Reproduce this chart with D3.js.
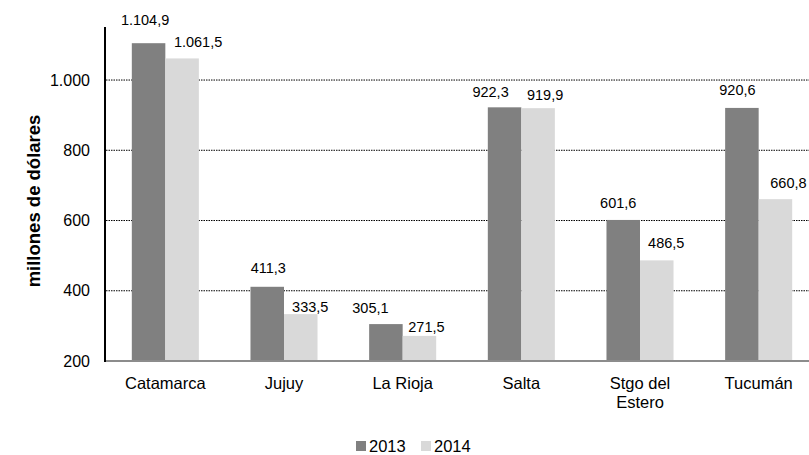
<!DOCTYPE html>
<html>
<head>
<meta charset="utf-8">
<script src="https://cdn.jsdelivr.net/npm/d3@7"></script>
<style>
  body { margin: 0; background: #fff; }
  svg { display: block; font-family: "Liberation Sans", Arial, sans-serif; }
</style>
</head>
<body>
<svg id="chart"></svg>
<script>
var provinces = ["Catamarca", "Jujuy", "La Rioja", "Salta", "Stgo del|Estero", "Tucumán"]
var years = ["2013", "2014"]
var values2013 = [1104.9, 411.3, 305.1, 922.3, 601.6, 920.6]
var values2014 = [1061.5, 333.5, 271.5, 919.9, 486.5, 660.8]
var labels2013 = ["1.104,9", "411,3", "305,1", "922,3", "601,6", "920,6"]
var labels2014 = ["1.061,5", "333,5", "271,5", "919,9", "486,5", "660,8"]
var yTicks = [200, 400, 600, 800, 1000]

// labels were hand placed in the original, so nudge them a bit
var nudge2013 = [[-3.5, -23], [1, -19], [-15.5, -16], [-14, -15], [-5, -17], [-4.5, -18]]
var nudge2014 = [[16, -16.5], [9.5, -7], [7, -9], [7, -13], [9.5, -17.5], [13, -16]]

var dims = {
    width: 809,
    height: 455,
    margin: { top: 27, bottom: 94, left: 106, right: -9 }
}

var svg = d3.select("#chart")
            .attr("width", dims.width)
            .attr("height", dims.height)

var xScale = d3.scaleBand()
               .domain(provinces)
               .range([dims.margin.left, dims.width - dims.margin.right])

var bandW = xScale.bandwidth()
var subScale = d3.scaleBand()
                 .domain(years)
                 .range([bandW * 0.2175, bandW * 0.7825])

var yScale = d3.scaleLinear()
               .domain([200, 1151])
               .range([dims.height - dims.margin.bottom, dims.margin.top])

var colors = { "2013": "#808080", "2014": "#d9d9d9" }

// dotted gridlines
svg.append("g")
   .selectAll("line")
   .data(yTicks.filter(d => d > 200))
   .enter()
   .append("line")
   .attr("x1", dims.margin.left)
   .attr("x2", dims.width)
   .attr("y1", d => yScale(d))
   .attr("y2", d => yScale(d))
   .attr("stroke", "#000")
   .attr("stroke-width", 1)
   .attr("stroke-dasharray", "1.5,1")

var series = [
    { year: "2013", values: values2013, labels: labels2013, nudge: nudge2013 },
    { year: "2014", values: values2014, labels: labels2014, nudge: nudge2014 }
]

series.forEach(function(s) {
    var rows = provinces.map((p, i) => ({ p: p, v: s.values[i], lab: s.labels[i], n: s.nudge[i] }))

    svg.append("g")
       .selectAll("rect")
       .data(rows)
       .enter()
       .append("rect")
       .attr("x", d => xScale(d.p) + subScale(s.year))
       .attr("width", subScale.bandwidth())
       .attr("y", d => yScale(d.v))
       .attr("height", d => yScale(200) - yScale(d.v))
       .attr("fill", colors[s.year])

    svg.append("g")
       .selectAll("text")
       .data(rows)
       .enter()
       .append("text")
       .attr("x", d => xScale(d.p) + subScale(s.year) + subScale.bandwidth() / 2 + d.n[0])
       .attr("y", d => yScale(d.v) + d.n[1])
       .attr("dominant-baseline", "central")
       .attr("text-anchor", "middle")
       .attr("font-size", "14.5px")
       .attr("fill", "#000")
       .text(d => d.lab)
})

// axes
svg.append("line")
   .attr("x1", dims.margin.left)
   .attr("x2", dims.width)
   .attr("y1", yScale(200))
   .attr("y2", yScale(200))
   .attr("stroke", "#8c8c8c")
   .attr("stroke-width", 2)

svg.append("line")
   .attr("x1", dims.margin.left - 1)
   .attr("x2", dims.margin.left - 1)
   .attr("y1", dims.margin.top)
   .attr("y2", yScale(200) + 1)
   .attr("stroke", "#000")
   .attr("stroke-width", 2)

var yAxisGen = d3.axisLeft(yScale)
                 .tickValues(yTicks)
                 .tickSize(0)
                 .tickPadding(16)
                 .tickFormat(d => d3.format(",")(d).replace(",", "."))

var yAxis = svg.append("g")
               .attr("transform", `translate(${dims.margin.left},0)`)
               .call(yAxisGen)
yAxis.select(".domain").remove()
yAxis.selectAll("text")
     .attr("font-family", "Liberation Sans, Arial, sans-serif")
     .attr("font-size", "16px")
     .attr("fill", "#000")

// category labels
var catLabels = svg.append("g")
                   .selectAll("text")
                   .data(provinces)
                   .enter()
                   .append("text")
                   .attr("x", d => xScale(d) + bandW / 2)
                   .attr("y", yScale(200) + 28)
                   .attr("text-anchor", "middle")
                   .attr("font-size", "16.5px")
                   .attr("fill", "#000")

catLabels.selectAll("tspan")
         .data(d => d.split("|"))
         .enter()
         .append("tspan")
         .attr("x", function() { return d3.select(this.parentNode).attr("x") })
         .attr("dy", (d, i) => i == 0 ? 0 : 19)
         .text(d => d)

// y label
svg.append("text")
   .attr("transform", "rotate(-90)")
   .attr("x", -201)
   .attr("y", 33)
   .attr("dominant-baseline", "central")
   .attr("text-anchor", "middle")
   .attr("font-size", "18.5px")
   .attr("font-weight", "bold")
   .attr("fill", "#000")
   .text("millones de dólares")

// legend
var legendX = [356, 421]
years.forEach(function(y, i) {
    svg.append("rect")
       .attr("x", legendX[i])
       .attr("y", 441)
       .attr("width", 10)
       .attr("height", 10)
       .attr("fill", colors[y])
    svg.append("text")
       .attr("x", legendX[i] + 13)
       .attr("y", 446)
       .attr("dominant-baseline", "central")
       .attr("font-size", "16.5px")
       .attr("fill", "#000")
       .text(y)
})
</script>
</body>
</html>
